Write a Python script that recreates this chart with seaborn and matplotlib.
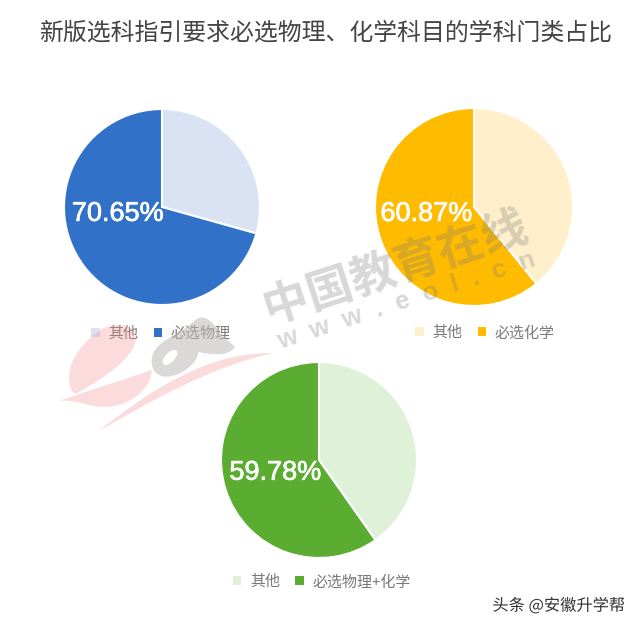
import matplotlib
matplotlib.use('Agg')
import matplotlib.pyplot as plt
import matplotlib.patheffects as pe
from matplotlib.path import Path
from matplotlib.patches import PathPatch
import seaborn as sns

sns.set_theme(style='white')
plt.rcParams['font.family'] = ['Noto Sans CJK SC', 'DejaVu Sans']

title = '新版选科指引要求必选物理、化学科目的学科门类占比'
other_label = '其他'
physics_label = '必选物理'
chemistry_label = '必选化学'
both_label = '必选物理+化学'
physics_values = [29.35, 70.65]
chemistry_values = [39.13, 60.87]
both_values = [40.22, 59.78]
physics_colors = ['#d9e3f4', '#3172c8']
chemistry_colors = ['#fff0cb', '#ffbb00']
both_colors = ['#dff1d8', '#5bad32']

W, H = 640, 629
fig = plt.figure(figsize=(W / 100, H / 100), dpi=100, facecolor='white')


def draw_pie(cx, cy, r, values, colors, name, pct_x, pct_y, legend_x, legend_y):
    ax = fig.add_axes([(cx - r) / W, 1 - (cy + r) / H, 2 * r / W, 2 * r / H])
    wedges, _ = ax.pie(values, colors=colors, startangle=90, counterclock=False,
                       wedgeprops={'edgecolor': 'white', 'linewidth': 1.5})
    ax.set_xlim(-1, 1)
    ax.set_ylim(-1, 1)
    ax.axis('off')
    for w in wedges:
        w.set_clip_on(False)
    ax.text(pct_x, pct_y, f'{values[1]:.2f}%', color='white', fontsize=19.5,
            family='Liberation Sans', ha='center', va='center', zorder=5,
            path_effects=[pe.withStroke(linewidth=0.5, foreground='white')])
    leg = ax.legend(wedges, [other_label, name], ncol=2, frameon=False, loc='center',
                    bbox_to_anchor=(legend_x / W, 1 - legend_y / H),
                    bbox_transform=fig.transFigure, fontsize=10.8,
                    handlelength=0.55, handleheight=0.55, handletextpad=0.6,
                    columnspacing=1.0, labelcolor='#7a7a7a')
    for h in leg.legend_handles:
        h.set_linewidth(0)
    return ax


draw_pie(162, 207, 98, physics_values, physics_colors, physics_label, -0.45, -0.07, 161, 334)
draw_pie(474, 207, 99, chemistry_values, chemistry_colors, chemistry_label, -0.48, -0.07, 485, 333)
draw_pie(319, 460, 98, both_values, both_colors, both_label, -0.445, -0.13, 322, 582)

# overlay in pixel coordinates, for title and watermark
over = fig.add_axes([0, 0, 1, 1], facecolor='none', zorder=10)
over.set_xlim(0, W)
over.set_ylim(H, 0)
over.axis('off')

over.text(326, 33, title, fontsize=17.2, color='#444444', ha='center', va='center')


def blob(points, color, alpha):
    codes = [Path.MOVETO] + [Path.CURVE4] * (len(points) - 1)
    over.add_patch(PathPatch(Path(points, codes), fc=color, ec='none', alpha=alpha))


def z(x, y):
    return (40 + x / 3, 240 + y / 3)


red = '#f58a8a'
blob([z(105, 462), z(75, 440), z(70, 340), z(190, 265),
      z(250, 238), z(305, 265), z(282, 320),
      z(250, 380), z(165, 430), z(105, 462)], red, 0.3)
blob([z(60, 482), z(150, 450), z(250, 420), z(335, 390),
      z(335, 450), z(260, 505), z(185, 500),
      z(140, 498), z(115, 480), z(60, 482)], red, 0.3)
blob([z(700, 340), z(540, 335), z(380, 410), z(172, 576),
      z(320, 490), z(520, 375), z(700, 340)], red, 0.3)
blob([z(335, 370), z(330, 300), z(420, 290), z(465, 240),
      z(510, 210), z(530, 280), z(585, 320),
      z(570, 350), z(510, 345), z(475, 335),
      z(470, 395), z(345, 450), z(335, 370)], '#bdbab8', 0.55)
blob([z(368, 365), z(372, 335), z(415, 318), z(412, 340),
      z(408, 365), z(370, 390), z(368, 365)], 'white', 1)

over.text(396, 268, '中国教育在线', fontsize=33, weight='bold', color='#7d7d7d', alpha=0.3,
          rotation=18, ha='center', va='center')
over.text(406, 301, 'w  w  w  .  e  o  l  .  c  n', fontsize=18.5, weight='bold', color='#7d7d7d',
          alpha=0.3, rotation=18, ha='center', va='center', family='Liberation Sans')

over.text(625, 606, '头条 @安徽升学帮', fontsize=11.7, color='#333333', ha='right', va='center',
          path_effects=[pe.withStroke(linewidth=1.5, foreground='white')])

fig.savefig('out.png', dpi=100, facecolor='white')
